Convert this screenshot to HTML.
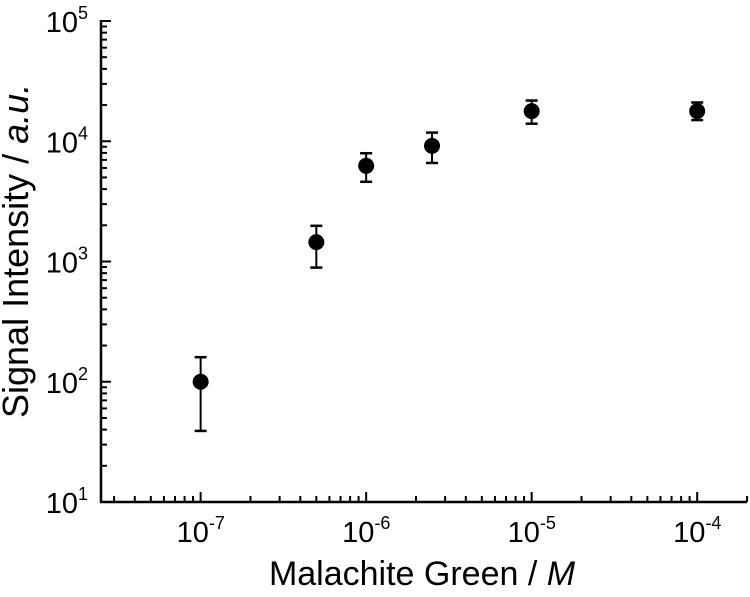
<!DOCTYPE html>
<html><head><meta charset="utf-8"><style>
html,body{margin:0;padding:0;background:#fff;}
svg{display:block;font-family:"Liberation Sans",Arial,sans-serif;}
</style></head><body>
<svg id="chart" width="750" height="597"></svg>
<script>
const concentrations=[1e-7,5e-7,1e-6,2.5e-6,1e-5,1e-4];
const intensities=[100,1450,6250,9150,17800,17800];
const errLow=[39,890,4600,6600,14000,15000];
const errHigh=[160,1980,7950,11800,21800,21000];
const xTickExps=[-7,-6,-5,-4];
const yTickExps=[1,2,3,4,5];
const NS="http://www.w3.org/2000/svg";
const svg=document.getElementById('chart');
const L=101,R=747,T=21,B=502;
const xmin=Math.log10(2.5e-8),xmax=Math.log10(2.0e-4);
const ymin=1,ymax=5;
function sx(v){return L+(Math.log10(v)-xmin)/(xmax-xmin)*(R-L);}
function sy(v){return B-(Math.log10(v)-ymin)/(ymax-ymin)*(B-T);}
function el(t,a,p){const e=document.createElementNS(NS,t);for(const k in a)e.setAttribute(k,a[k]);(p||svg).appendChild(e);return e;}
const axes=el('g',{stroke:'#000','stroke-width':2.5,fill:'none'});


el('line',{x1:L,y1:T-1,x2:L,y2:B+1},axes);
el('line',{x1:L-1,y1:B,x2:R,y2:B},axes);
for(let d=1;d<5;d++){for(let m=1;m<10;m++){const v=m*Math.pow(10,d);el('line',{x1:L,y1:sy(v),x2:L+(m===1?10:6),y2:sy(v),'stroke-width':2},axes);}}
el('line',{x1:L,y1:sy(1e5),x2:L+10,y2:sy(1e5),'stroke-width':2},axes);
for(let d=-8;d<=-4;d++){for(let m=1;m<10;m++){const v=m*Math.pow(10,d);const lv=Math.log10(v);if(lv<xmin||lv>xmax)continue;el('line',{x1:sx(v),y1:B,x2:sx(v),y2:B-(m===1?10:6),'stroke-width':2},axes);}}
yTickExps.forEach(e=>{const t=el('text',{x:88,y:sy(Math.pow(10,e))+11,'text-anchor':'end','font-size':29});


t.textContent='10';const s=el('tspan',{dy:-13,'font-size':18},t);s.textContent=e;});
xTickExps.forEach(e=>{const t=el('text',{x:sx(Math.pow(10,e))-24,y:B+40,'font-size':29});


t.textContent='10';const s=el('tspan',{dy:-13,'font-size':18},t);s.textContent='-'+(-e);});
const xt=el('text',{x:422,y:585,'text-anchor':'middle','font-size':34});


xt.textContent='Malachite Green / ';const xi=el('tspan',{'font-style':'italic'},xt);xi.textContent='M';
const yt=el('text',{x:0,y:0,'text-anchor':'start','font-size':36,transform:'translate(28,418) rotate(-90)'});


yt.textContent='Signal Intensity / ';const yi=el('tspan',{'font-style':'italic'},yt);yi.textContent='a.u.';
concentrations.forEach((c,i)=>{const g=el('g',{});


const x=sx(c);
el('line',{x1:x,y1:sy(errLow[i]),x2:x,y2:sy(errHigh[i]),stroke:'#000','stroke-width':2},g);
el('line',{x1:x-6,y1:sy(errLow[i]),x2:x+6,y2:sy(errLow[i]),stroke:'#000','stroke-width':2.5},g);
el('line',{x1:x-6,y1:sy(errHigh[i]),x2:x+6,y2:sy(errHigh[i]),stroke:'#000','stroke-width':2.5},g);
el('circle',{cx:x,cy:sy(intensities[i]),r:8,fill:'#000'},g);});
</script>
</body></html>
